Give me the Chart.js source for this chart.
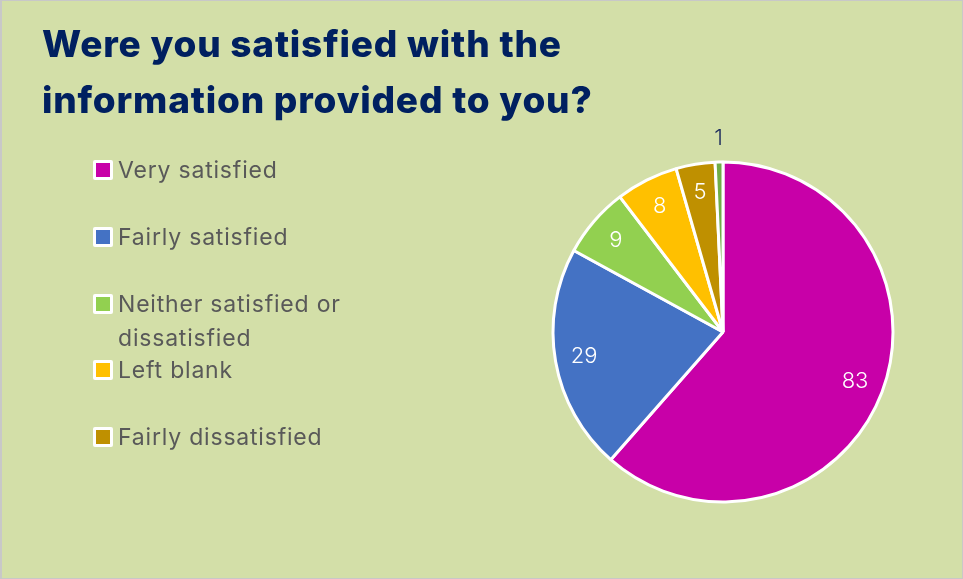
<!DOCTYPE html>
<html><head><meta charset="utf-8">
<script src="https://cdn.jsdelivr.net/npm/chart.js@4"></script>
<style>
html,body{margin:0;padding:0;background:#fff;}
#wrap{position:relative;width:963px;height:579px;background:#D3DFA8;overflow:hidden;}
#wrap::after{content:'';position:absolute;left:0;top:0;right:0;bottom:0;border:1px solid #c8c8c8;border-left-width:2px;pointer-events:none;}
#title{position:absolute;left:42px;top:16px;font-family:Inter,'Open Sans',sans-serif;font-weight:800;font-size:37px;letter-spacing:0.8px;line-height:56px;color:#002060;white-space:nowrap;}
canvas{position:absolute;left:0;top:0;}
.lg{position:absolute;left:93px;font-family:Inter,'Open Sans',sans-serif;font-size:23px;letter-spacing:0.8px;line-height:34px;color:#595959;}
.lg .box{position:absolute;left:0;top:7px;width:20px;height:20px;background:#fff;border-radius:2px;}
.lg .box i{position:absolute;left:3px;top:3px;width:14px;height:14px;}
.lg .txt{position:absolute;left:25px;top:0;width:240px;}
</style></head>
<body>
<div id="wrap">
<canvas id="c" width="963" height="579"></canvas>
<div id="title">Were you satisfied with the<br>information provided to you?</div>
</div>
<script>
const categories = ["Very satisfied","Fairly satisfied","Neither satisfied or dissatisfied","Left blank","Fairly dissatisfied","Very dissatisfied"];
const values = [83, 29, 9, 8, 5, 1];
const colors = ["#C800A8","#4472C4","#92D050","#FFC000","#BF9000","#70AD47"];
const legendCount = 5;

const wrap = document.getElementById('wrap');
for (let i = 0; i < legendCount; i++) {
  const d = document.createElement('div');
  d.className = 'lg';
  d.style.top = (153 + i * 66.75) + 'px';
  d.innerHTML = '<span class="box"><i style="background:' + colors[i] + '"></i></span><span class="txt">' + categories[i] + '</span>';
  wrap.appendChild(d);
}

const sliceLabels = {
  id: 'sliceLabels',
  afterDatasetsDraw(chart) {
    const ctx = chart.ctx;
    const ds = chart.data.datasets[0].data;
    const total = ds.reduce((a, b) => a + b, 0);
    chart.getDatasetMeta(0).data.forEach((arc, i) => {
      const p = arc.getProps(['x','y','startAngle','endAngle','outerRadius'], true);
      const mid = (p.startAngle + p.endAngle) / 2;
      const small = ds[i] / total < 0.02;
      const r = small ? p.outerRadius * 1.14 : p.outerRadius * 0.83;
      ctx.save();
      ctx.font = '300 22px Inter, "Open Sans", sans-serif';
      ctx.fillStyle = small ? '#1B2A5C' : '#ffffff';
      ctx.textAlign = 'center';
      ctx.textBaseline = 'middle';
      ctx.fillText(String(ds[i]), p.x + Math.cos(mid) * r, p.y + Math.sin(mid) * r);
      ctx.restore();
    });
  }
};

new Chart(document.getElementById('c'), {
  type: 'pie',
  data: {
    labels: categories,
    datasets: [{ data: values, backgroundColor: colors, borderColor: '#ffffff', borderWidth: 3 }]
  },
  options: {
    responsive: false,
    animation: false,
    radius: 170,
    layout: { padding: { left: 493, right: 10, top: 100, bottom: 15 } },
    plugins: { legend: { display: false }, tooltip: { enabled: false } }
  },
  plugins: [sliceLabels]
});
</script>
</body></html>
